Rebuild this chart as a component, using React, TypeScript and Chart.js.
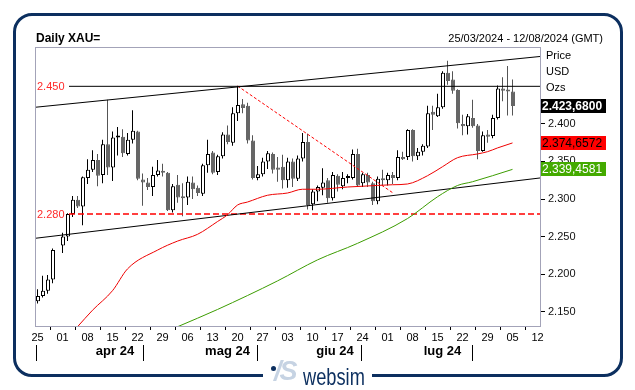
import React, { useEffect, useRef } from 'react';
import { Chart, registerables } from 'chart.js';

Chart.register(...registerables);

const FONT = '"Liberation Sans", Arial, Helvetica, sans-serif';
Chart.defaults.font.family = FONT;

// ---------- data ----------
const dates = [
  '25/03', '26/03', '27/03', '28/03', '29/03',
  '01/04', '02/04', '03/04', '04/04', '05/04',
  '08/04', '09/04', '10/04', '11/04', '12/04',
  '15/04', '16/04', '17/04', '18/04', '19/04',
  '22/04', '23/04', '24/04', '25/04', '26/04',
  '29/04', '30/04', '01/05', '02/05', '03/05',
  '06/05', '07/05', '08/05', '09/05', '10/05',
  '13/05', '14/05', '15/05', '16/05', '17/05',
  '20/05', '21/05', '22/05', '23/05', '24/05',
  '27/05', '28/05', '29/05', '30/05', '31/05',
  '03/06', '04/06', '05/06', '06/06', '07/06',
  '10/06', '11/06', '12/06', '13/06', '14/06',
  '17/06', '18/06', '19/06', '20/06', '21/06',
  '24/06', '25/06', '26/06', '27/06', '28/06',
  '01/07', '02/07', '03/07', '04/07', '05/07',
  '08/07', '09/07', '10/07', '11/07', '12/07',
  '15/07', '16/07', '17/07', '18/07', '19/07',
  '22/07', '23/07', '24/07', '25/07', '26/07',
  '29/07', '30/07', '31/07', '01/08', '02/08',
  '05/08',
];

const opens = [
  2164, 2171, 2178, 2193, null,
  2238, 2250, 2280, 2299, 2290,
  2328, 2339, 2352, 2332, 2373,
  2342, 2382, 2383, 2360, 2379,
  2390, 2326, 2322, 2316, 2332,
  2337, 2335, 2285, 2319, 2303,
  2302, 2322, 2315, 2307, 2345,
  2362, 2336, 2357, 2386, 2375,
  2414, 2426, 2424, 2378, 2328,
  2333, 2350, 2360, 2342, 2343,
  2325, 2350, 2327, 2354, 2376,
  2293, 2310, 2315, 2325, 2301,
  2331, 2317, 2328, 2328, 2360,
  2321, 2332, 2321, 2297, 2327,
  2325, 2332, 2328, 2356, 2356,
  2392, 2357, 2363, 2370, 2416,
  2410, 2422, 2468, 2459, 2445,
  2400, 2397, 2408, 2398, 2364,
  2386, 2384, 2408, 2447, 2445,
  2443,
];

const highs = [
  2180, 2198, 2199, 2234, null,
  2255, 2281, 2304, 2304, 2330,
  2353, 2365, 2360, 2379, 2432,
  2390, 2396, 2393, 2388, 2418,
  2391, 2334, 2328, 2343, 2352,
  2347, 2336, 2320, 2332, 2321,
  2330, 2330, 2318, 2347, 2379,
  2364, 2359, 2389, 2398, 2422,
  2450.5, 2433, 2428, 2385, 2344,
  2355, 2364, 2362, 2356, 2359,
  2355, 2354, 2358, 2388, 2387,
  2313, 2318, 2341, 2328, 2336,
  2333, 2336, 2333, 2366, 2367,
  2335, 2335, 2323, 2330, 2339,
  2335, 2336, 2365, 2363, 2393,
  2393, 2368, 2373, 2424, 2424,
  2440, 2470, 2484, 2470, 2446,
  2412, 2413, 2432, 2400, 2390,
  2392, 2412, 2451, 2462, 2477,
  2459,
];

const lows = [
  2161, 2169, 2174, 2188, null,
  2228, 2244, 2276, 2288, 2265,
  2320, 2336, 2317, 2321, 2332,
  2324, 2358, 2356, 2358, 2374,
  2325, 2291, 2312, 2304, 2330,
  2330, 2284, 2282, 2295, 2277,
  2292, 2300, 2304, 2304, 2335,
  2333, 2332, 2354, 2373, 2371,
  2404, 2414, 2374, 2326, 2325,
  2330, 2340, 2334, 2323, 2314,
  2315, 2316, 2324, 2350, 2286,
  2285, 2297, 2305, 2295, 2298,
  2310, 2313, 2321, 2326, 2316,
  2316, 2316, 2292, 2293, 2318,
  2318, 2320, 2325, 2352, 2352,
  2350, 2352, 2358, 2368, 2392,
  2409, 2420, 2452, 2440, 2394,
  2385, 2386, 2395, 2353, 2363,
  2375, 2381, 2406, 2430, 2411,
  2411,
];

const closes = [
  2171, 2178, 2193, 2232, null,
  2250, 2280, 2299, 2290, 2329,
  2339, 2352, 2331, 2373, 2342,
  2382, 2383, 2361, 2379, 2391,
  2327, 2322, 2316, 2332, 2338,
  2335, 2285, 2317, 2302, 2301,
  2323, 2313, 2308, 2345, 2360,
  2335, 2357, 2386, 2376, 2414,
  2425, 2421, 2378, 2328, 2333,
  2350, 2361, 2339, 2339, 2325,
  2350, 2327, 2354, 2376, 2292,
  2310, 2316, 2322, 2301, 2332,
  2319, 2328, 2329, 2360, 2318,
  2333, 2322, 2297, 2327, 2325,
  2332, 2328, 2356, 2353, 2392,
  2357, 2363, 2371, 2414, 2412,
  2422, 2468, 2457, 2444, 2401,
  2397, 2410, 2397, 2364, 2385,
  2383, 2408, 2447, 2444, 2443,
  2423.68,
];

// moving averages (day index / value)
const ma50Idx = [8, 11, 15, 18, 24, 28, 32, 36, 38, 40, 42, 46, 50, 53, 56, 62, 65, 71, 74, 78, 81, 84, 88, 90, 92, 95];
const ma50Val = [2130, 2152, 2178, 2207, 2232, 2244, 2253, 2270, 2279, 2292, 2296, 2305, 2308, 2313, 2313, 2316, 2317, 2319, 2320, 2331, 2343, 2355, 2360, 2363, 2368, 2374.6572];
const ma100Idx = [28, 36, 48, 56, 64, 74, 80, 84, 87, 95];
const ma100Val = [2130, 2153, 2191, 2219, 2241, 2274, 2303, 2318, 2323, 2339.4581];

// drawn studies
const upperChannelIdx = [-0.5, 100.5];
const upperChannelVal = [2422.1, 2489.7];
const lowerChannelIdx = [-0.5, 100.5];
const lowerChannelVal = [2247.7, 2328.0];
const fallLineIdx = [40, 71.2];
const fallLineVal = [2450.5, 2307.6];
const levelValues = [2450, 2280];
const levelStartIdx = 6.3;

// axes
const dayTickIdx = [0, 5, 10, 15, 20, 25, 30, 35, 40, 45, 50, 55, 60, 65, 70, 75, 80, 85, 90, 95, 100];
const dayTickLabels = ['25', '01', '08', '15', '22', '29', '06', '13', '20', '27', '03', '10', '17', '24', '01', '08', '15', '22', '29', '05', '12'];
const monthStartIdx = [5, 27, 50, 70, 93];
const monthLabelIdx = [15.5, 38, 59.5, 81];
const monthLabels = ['apr 24', 'mag 24', 'giu 24', 'lug 24'];
const yTicks = [2150, 2200, 2250, 2300, 2350, 2400];
const xMin = -0.5;
const xMax = 100.5;
const yMin = 2131;
const yMax = 2501;

// ---------- helpers ----------
const withDots = (s: string) => s.replace(/\B(?=(\d{3})+(?!\d))/g, '.');
const fmtInt = (v: number) => withDots(String(Math.round(v)));
const fmtTag = (v: number) => {
  const [i, d] = v.toFixed(4).split('.');
  return withDots(i) + ',' + d;
};

const NAVY = '#0c2f5f';
const DOWN = '#666666';

const lastIdx = closes.length - 1;
const tagValues = [closes[lastIdx] as number, ma50Val[ma50Val.length - 1], ma100Val[ma100Val.length - 1]];
const tagBg = ['#000000', '#ff0000', '#44aa00'];
const tagFg = ['#ffffff', '#000000', '#ffffff'];
const tagBold = [true, false, false];

const overlayPlugin = {
  id: 'overlay',
  afterDatasetsDraw(chart: any) {
    const { ctx, chartArea: a, scales } = chart;
    const y = scales.y;
    ctx.save();
    ctx.font = `11px ${FONT}`;
    ctx.fillStyle = '#ff2a2a';
    ctx.textBaseline = 'middle';
    ctx.textAlign = 'left';
    levelValues.forEach((v) => ctx.fillText(fmtInt(v), a.left + 2, y.getPixelForValue(v) + 0.5));
    ctx.restore();
  },
  afterDraw(chart: any) {
    const { ctx, chartArea: a, scales } = chart;
    const y = scales.y;
    ctx.save();
    ctx.strokeStyle = '#a3a3b8';
    ctx.lineWidth = 1;
    ctx.strokeRect(Math.round(a.left) + 0.5, Math.round(a.top) - 0.5, Math.round(a.right - a.left), Math.round(a.bottom - a.top) + 1);
    tagValues.forEach((v, k) => {
      const py = Math.round(y.getPixelForValue(v));
      ctx.fillStyle = tagBg[k];
      ctx.fillRect(Math.round(a.right) + 1, py - 7, 65, 14);
      ctx.fillStyle = tagFg[k];
      ctx.font = `${tagBold[k] ? 'bold ' : ''}12px ${FONT}`;
      ctx.textBaseline = 'middle';
      ctx.textAlign = 'left';
      ctx.fillText(fmtTag(v), Math.round(a.right) + 2, py + 0.5);
    });
    ctx.restore();
  },
};

const isUp = (i: number) => (closes[i] as number) >= (opens[i] as number);

export default function App() {
  const ref = useRef<HTMLCanvasElement>(null);

  useEffect(() => {
    const bodyData: any[] = [];
    const wickData: any[] = [];
    dates.forEach((_d, i) => {
      if (opens[i] == null) return;
      bodyData.push({ x: i, y: [opens[i], closes[i]] });
      wickData.push({ x: i, y: [lows[i], highs[i]] });
    });
    const pts = (xs: number[], ys: number[]) => xs.map((x, k) => ({ x, y: ys[k] }));

    const chart = new Chart(ref.current as HTMLCanvasElement, {
      type: 'bar',
      data: {
        datasets: [
          {
            type: 'line',
            data: pts(ma50Idx, ma50Val),
            borderColor: '#ee0000',
            borderWidth: 1,
            pointRadius: 0,
            cubicInterpolationMode: 'monotone',
            xAxisID: 'x',
            yAxisID: 'y',
            order: 0,
          },
          {
            type: 'line',
            data: pts(ma100Idx, ma100Val),
            borderColor: '#3c9c00',
            borderWidth: 1,
            pointRadius: 0,
            cubicInterpolationMode: 'monotone',
            xAxisID: 'x',
            yAxisID: 'y',
            order: 0,
          },
          {
            type: 'line',
            data: pts(upperChannelIdx, upperChannelVal),
            borderColor: '#000000',
            borderWidth: 1,
            pointRadius: 0,
            xAxisID: 'x',
            yAxisID: 'y',
            order: 0,
          },
          {
            type: 'line',
            data: pts(lowerChannelIdx, lowerChannelVal),
            borderColor: '#000000',
            borderWidth: 1,
            pointRadius: 0,
            xAxisID: 'x',
            yAxisID: 'y',
            order: 0,
          },
          {
            type: 'line',
            data: pts([levelStartIdx, xMax], [levelValues[0], levelValues[0]]),
            borderColor: '#000000',
            borderWidth: 1,
            pointRadius: 0,
            xAxisID: 'x',
            yAxisID: 'y',
            order: 0,
          },
          {
            type: 'line',
            data: pts([levelStartIdx, xMax], [levelValues[1], levelValues[1]]),
            borderColor: '#ff0000',
            borderWidth: 1.6,
            borderDash: [6, 3],
            pointRadius: 0,
            xAxisID: 'x',
            yAxisID: 'y',
            order: 0,
          },
          {
            type: 'line',
            data: pts(fallLineIdx, fallLineVal),
            borderColor: '#ff0000',
            borderWidth: 1,
            borderDash: [3, 2],
            pointRadius: 0,
            xAxisID: 'x',
            yAxisID: 'y',
            order: 0,
          },
          {
            type: 'bar',
            data: bodyData,
            xAxisID: 'xb',
            yAxisID: 'y',
            barThickness: 4,
            grouped: false,
            borderSkipped: false,
            borderWidth: 1,
            minBarLength: 2,
            inflateAmount: 0,
            backgroundColor: (c: any) => (c.raw && c.raw.y[1] >= c.raw.y[0] ? '#ffffff' : DOWN),
            borderColor: (c: any) => (c.raw && c.raw.y[1] >= c.raw.y[0] ? '#000000' : DOWN),
            order: 1,
          },
          {
            type: 'bar',
            data: wickData,
            xAxisID: 'x',
            yAxisID: 'y',
            barThickness: 1,
            grouped: false,
            borderWidth: 0,
            inflateAmount: 0,
            backgroundColor: (c: any) => (c.raw && isUp(c.raw.x) ? '#000000' : '#555555'),
            order: 2,
          },
        ] as any,
      },
      options: {
        animation: false,
        responsive: false,
        events: [],
        layout: { padding: { left: 35, top: 48, right: 0, bottom: 0 } },
        plugins: { legend: { display: false }, tooltip: { enabled: false } },
        scales: {
          x: {
            type: 'linear',
            position: 'bottom',
            weight: 0,
            min: xMin,
            max: xMax,
            offset: false,
            border: { display: false },
            grid: { display: true, drawOnChartArea: false, drawTicks: true, tickLength: 4, tickColor: '#000000' },
            afterBuildTicks: (s: any) => {
              s.ticks = dayTickIdx.map((v) => ({ value: v }));
            },
            afterFit: (s: any) => {
              s.height = 19;
            },
            ticks: {
              autoSkip: false,
              maxRotation: 0,
              minRotation: 0,
              padding: 1,
              color: '#000000',
              font: { family: FONT, size: 11 },
              callback: (v: any) => {
                const k = dayTickIdx.indexOf(Number(v));
                return k >= 0 ? dayTickLabels[k] : '';
              },
            },
          },
          x2: {
            type: 'linear',
            position: 'bottom',
            weight: 1,
            min: xMin,
            max: xMax,
            offset: false,
            border: { display: false },
            grid: {
              display: true,
              drawOnChartArea: false,
              drawTicks: true,
              tickLength: 16,
              tickColor: (c: any) => (c.tick && monthStartIdx.includes(c.tick.value) ? '#000000' : 'rgba(0,0,0,0)'),
            },
            afterBuildTicks: (s: any) => {
              s.ticks = [...monthStartIdx, ...monthLabelIdx].sort((a, b) => a - b).map((v) => ({ value: v }));
            },
            afterFit: (s: any) => {
              s.height = 45;
            },
            ticks: {
              autoSkip: false,
              maxRotation: 0,
              minRotation: 0,
              padding: -17,
              color: '#000000',
              font: { family: FONT, size: 13, weight: 'bold' },
              callback: (v: any) => {
                const k = monthLabelIdx.indexOf(Number(v));
                return k >= 0 ? monthLabels[k] : '';
              },
            },
          },
          xb: {
            type: 'linear',
            display: false,
            min: xMin - 0.1,
            max: xMax - 0.1,
            offset: false,
          },
          y: {
            type: 'linear',
            position: 'right',
            min: yMin,
            max: yMax,
            border: { display: false },
            grid: { display: true, drawOnChartArea: false, drawTicks: true, tickLength: 5, tickColor: '#000000' },
            afterBuildTicks: (s: any) => {
              s.ticks = yTicks.map((v) => ({ value: v }));
            },
            afterFit: (s: any) => {
              s.width = 95;
            },
            ticks: {
              padding: 3,
              color: '#111111',
              font: { family: FONT, size: 11 },
              callback: (v: any) => fmtInt(Number(v)),
            },
          },
        },
      } as any,
      plugins: [overlayPlugin],
    });
    return () => chart.destroy();
  }, []);

  const txt = (extra: React.CSSProperties): React.CSSProperties => ({
    position: 'absolute',
    whiteSpace: 'nowrap',
    lineHeight: 1,
    fontFamily: FONT,
    color: '#000',
    ...extra,
  });

  return (
    <div style={{ position: 'fixed', left: 0, top: 0, width: 635, height: 390, background: '#ffffff', overflow: 'hidden' }}>
      <canvas ref={ref} width={635} height={390} style={{ position: 'absolute', left: 0, top: 0, width: 635, height: 390 }} />
      <div
        style={{
          position: 'absolute',
          left: 12.5,
          top: 12.5,
          width: 610,
          height: 364,
          border: `3px solid ${NAVY}`,
          borderRadius: 19,
          boxSizing: 'border-box',
        }}
      />
      <div style={txt({ left: 36, top: 32, fontSize: 12, fontWeight: 'bold' })}>Daily XAU=</div>
      <div style={txt({ right: 32, top: 33, fontSize: 11 })}>25/03/2024 - 12/08/2024 (GMT)</div>
      <div style={txt({ left: 546, top: 49.5, fontSize: 11 })}>Price</div>
      <div style={txt({ left: 546, top: 65.5, fontSize: 11 })}>USD</div>
      <div style={txt({ left: 546, top: 81.5, fontSize: 11 })}>Ozs</div>
      <div style={{ position: 'absolute', left: 263, top: 362, width: 109, height: 20, background: '#ffffff' }} />
      <div
        style={txt({
          left: 274,
          top: 358,
          fontSize: 27,
          fontWeight: 'bold',
          fontStyle: 'italic',
          color: '#c6d3e3',
          letterSpacing: -2,
        })}
      >
        /S
      </div>
      <div style={{ position: 'absolute', left: 270.5, top: 366, width: 5, height: 5, borderRadius: '50%', background: NAVY }} />
      <div
        style={txt({
          left: 303,
          top: 365,
          fontSize: 24,
          color: NAVY,
          transform: 'scaleX(0.76)',
          transformOrigin: 'left top',
        })}
      >
        websim
      </div>
    </div>
  );
}
